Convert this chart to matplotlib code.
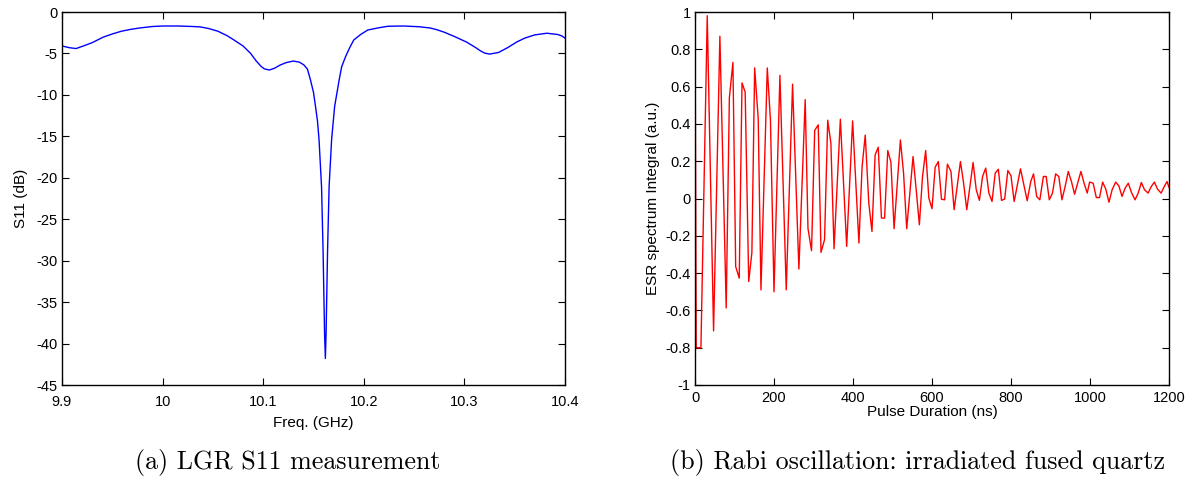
import matplotlib
matplotlib.use("Agg")
import matplotlib.pyplot as plt
from matplotlib.ticker import FuncFormatter

# ---- (a) LGR S11 measurement ----
freq_ghz = [9.900, 9.907, 9.914, 9.923, 9.930, 9.941, 9.950, 9.959, 9.968,
            9.977, 9.990, 10.000, 10.016, 10.030, 10.0376, 10.046, 10.055,
            10.064, 10.071, 10.080, 10.0875, 10.093, 10.098, 10.101, 10.106,
            10.111, 10.117, 10.123, 10.130, 10.136, 10.1405, 10.144, 10.147,
            10.150, 10.152, 10.154, 10.1555, 10.158, 10.1595, 10.161, 10.1618,
            10.1625, 10.164, 10.1655, 10.168, 10.171, 10.1755, 10.178, 10.182,
            10.186, 10.190, 10.197, 10.204, 10.215, 10.224, 10.240, 10.255,
            10.266, 10.273, 10.280, 10.290, 10.302, 10.310, 10.316, 10.320,
            10.325, 10.334, 10.343, 10.352, 10.360, 10.370, 10.382, 10.393,
            10.397, 10.400]
s11_db = [-4.09, -4.30, -4.41, -4.02, -3.70, -3.03, -2.65, -2.32, -2.10,
          -1.93, -1.75, -1.69, -1.69, -1.75, -1.80, -2.00, -2.32,
          -2.85, -3.38, -4.10, -5.0, -5.90, -6.57, -6.85, -7.0,
          -6.80, -6.39, -6.10, -5.92, -6.05, -6.39, -6.90, -8.2,
          -9.7, -11.4, -13.2, -15.4, -21.1, -28.7, -38.8, -41.8,
          -38.8, -28.7, -21.1, -15.4, -11.4, -8.2, -6.6, -5.35,
          -4.30, -3.38, -2.70, -2.17, -1.90, -1.72, -1.69, -1.78,
          -1.93, -2.15, -2.44, -2.95, -3.62, -4.20, -4.69, -4.95,
          -5.08, -4.88, -4.30, -3.62, -3.15, -2.76, -2.56, -2.72,
          -2.90, -3.15]
x_ticks_a = [9.9, 10.0, 10.1, 10.2, 10.3, 10.4]
y_ticks_a = [0, -5, -10, -15, -20, -25, -30, -35, -40, -45]

# ---- (b) Rabi oscillation ----
pulse_ns = [0, 3, 15, 31, 47, 63, 79, 87, 96, 103, 112, 119, 127, 136, 144,
            151, 160, 167, 183, 191, 200, 215, 231, 247, 263, 279, 286, 295,
            303, 312, 319, 328, 336, 344, 352, 368, 384, 399, 415, 423, 431,
            440, 448, 456, 464, 472, 480, 488, 496, 504, 520, 528, 536, 544,
            552, 560, 568, 576, 584, 592, 600, 608, 616, 624, 632, 639, 648,
            656, 672, 680, 688, 696, 704, 712, 720, 728, 736, 744, 752, 760,
            768, 776, 784, 792, 800, 808, 824, 841, 850, 857, 865, 873, 882,
            889, 897, 905, 913, 921, 929, 937, 945, 953, 961, 977, 985, 993,
            999, 1008, 1016, 1024, 1032, 1040, 1048, 1056, 1065, 1073, 1081,
            1089, 1097, 1105, 1114, 1122, 1130, 1138, 1147, 1155, 1163, 1171,
            1180, 1188, 1195, 1200]
esr_integral = [1.0, -0.80, -0.80, 0.98, -0.71, 0.87, -0.587, 0.54, 0.73,
                -0.365, -0.427, 0.62, 0.57, -0.445, -0.29, 0.70, 0.43, -0.49,
                0.70, 0.42, -0.50, 0.66, -0.49, 0.613, -0.378, 0.53, -0.16,
                -0.28, 0.365, 0.395, -0.289, -0.22, 0.42, 0.297, -0.27, 0.425,
                -0.257, 0.416, -0.239, 0.171, 0.34, -0.025, -0.177, 0.234,
                0.275, -0.105, -0.105, 0.257, 0.195, -0.162, 0.314, 0.136,
                -0.162, 0.029, 0.225, 0.047, -0.141, 0.118, 0.257, 0.002,
                -0.055, 0.168, 0.198, -0.004, -0.007, 0.184, 0.145, -0.06,
                0.198, 0.082, -0.06, 0.064, 0.193, 0.047, -0.01, 0.118, 0.163,
                0.029, -0.016, 0.136, 0.157, -0.01, -0.003, 0.15, 0.122,
                -0.016, 0.159, -0.012, 0.091, 0.132, 0.011, -0.007, 0.118,
                0.118, -0.007, 0.029, 0.132, 0.118, -0.007, 0.064, 0.145,
                0.091, 0.023, 0.145, 0.082, 0.029, 0.088, 0.082, 0.005, 0.005,
                0.088, 0.05, -0.02, 0.047, 0.088, 0.068, 0.011, 0.056, 0.082,
                0.032, -0.007, 0.029, 0.086, 0.047, 0.029, 0.064, 0.088, 0.05,
                0.029, 0.064, 0.091, 0.06]
x_ticks_b = [0, 200, 400, 600, 800, 1000, 1200]
y_ticks_b = [-1, -0.8, -0.6, -0.4, -0.2, 0, 0.2, 0.4, 0.6, 0.8, 1]

W, H = 1197, 479
fig = plt.figure(figsize=(W / 100, H / 100), dpi=100)
fig.patch.set_facecolor("white")

tick_font = "Liberation Sans"
cap_font = ["cmr10", "DejaVu Serif"]


def fmt(v, pos):
    return "%g" % v


def style(ax, xpad):
    ax.tick_params(direction="in", top=True, right=True, length=5, width=0.8,
                   labelsize=10.5)
    ax.tick_params(axis="x", pad=xpad)
    ax.tick_params(axis="y", pad=3)
    for sp in ax.spines.values():
        sp.set_linewidth(1.0)
    ax.xaxis.set_major_formatter(FuncFormatter(fmt))
    ax.yaxis.set_major_formatter(FuncFormatter(fmt))
    for lab in ax.get_xticklabels() + ax.get_yticklabels():
        lab.set_fontfamily(tick_font)


ax1 = fig.add_axes([62 / W, 1 - 385 / H, 503 / W, 373 / H])
ax1.plot(freq_ghz, s11_db, color="#0000ff", lw=1.0)
ax1.set_xlim(9.9, 10.4)
ax1.set_ylim(-45, 0)
ax1.set_xticks(x_ticks_a)
ax1.set_yticks(y_ticks_a)
style(ax1, 7)
ax1.set_xlabel("Freq. (GHz)", fontfamily=tick_font, fontsize=11, labelpad=5)
ax1.set_ylabel("S11 (dB)", fontfamily=tick_font, fontsize=11, labelpad=6)

ax2 = fig.add_axes([695 / W, 1 - 385 / H, 474 / W, 373 / H])
ax2.plot(pulse_ns, esr_integral, color="#ff0000", lw=1.0)
ax2.set_xlim(0, 1200)
ax2.set_ylim(-1, 1)
ax2.set_xticks(x_ticks_b)
ax2.set_yticks(y_ticks_b)
style(ax2, 4)
ax2.set_xlabel("Pulse Duration (ns)", fontfamily=tick_font, fontsize=11, labelpad=0)
ax2.set_ylabel("ESR spectrum Integral (a.u.)", fontfamily=tick_font, fontsize=11,
               labelpad=4)

fig.text(288 / W, 1 - 463 / H, "(a) LGR S11 measurement", ha="center",
         va="center", fontfamily=cap_font, fontsize=18.7)
fig.text(917 / W, 1 - 463 / H, "(b) Rabi oscillation: irradiated fused quartz",
         ha="center", va="center", fontfamily=cap_font, fontsize=18.7)

fig.savefig("out.png", dpi=100, facecolor="white")
